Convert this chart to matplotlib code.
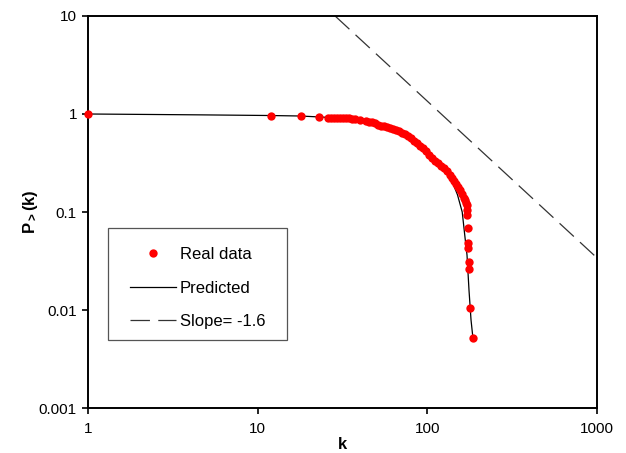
import matplotlib
matplotlib.use('Agg')
import matplotlib.pyplot as plt
from matplotlib.patches import Rectangle

plt.rcParams['font.family'] = ['Liberation Sans', 'DejaVu Sans']
plt.rcParams['mathtext.fontset'] = 'custom'
plt.rcParams['mathtext.rm'] = 'Liberation Sans'
plt.rcParams['mathtext.bf'] = 'Liberation Sans:bold'
plt.rcParams['mathtext.default'] = 'bf'
plt.rcParams['lines.scale_dashes'] = False

# Real data
real_k = [1, 11.9, 18.0, 23.0, 26.0, 27.0, 28.2, 29.3, 30.5, 31.8, 33.1, 34.5,
          35.9, 37.4, 40.1, 43.5, 45.3, 47.2, 49.1, 51.2, 53.3, 55.5, 57.8,
          60.2, 62.7, 65.3, 68.0, 70.8, 73.8, 76.9, 80.0, 83.4, 86.9, 90.4,
          94.2, 98.1, 102.2, 106.4, 110.9, 115.5, 120.3, 125.2, 130.5, 135.9,
          139.6, 143.5, 147.4, 151.5, 155.6, 159.9, 164.3, 166.6, 168.8,
          170.4, 170.4, 170.4, 172.8, 174.2, 174.2, 176.6, 176.6, 178.3, 184.9]
real_p = [1.0, 0.954, 0.954, 0.925, 0.910, 0.910, 0.910, 0.910, 0.906, 0.904,
          0.902, 0.900, 0.898, 0.889, 0.869, 0.854, 0.838, 0.819, 0.800,
          0.781, 0.763, 0.749, 0.733, 0.718, 0.703, 0.683, 0.664, 0.646,
          0.625, 0.596, 0.569, 0.536, 0.506, 0.476, 0.450, 0.419, 0.386,
          0.355, 0.335, 0.315, 0.296, 0.278, 0.262, 0.241, 0.222, 0.207,
          0.193, 0.180, 0.168, 0.153, 0.139, 0.133, 0.124, 0.118, 0.105,
          0.093, 0.069, 0.048, 0.043, 0.031, 0.026, 0.0105, 0.0052]

# Predicted curve
pred_k = [1, 4.57, 11.8, 17.8, 23.3, 30.5, 40.1, 52.5, 69.3, 90.4, 118.9,
          135.9, 150.5, 160.5, 166.6, 171.3, 176.0, 180.9, 185.6]
pred_p = [1.0, 0.98, 0.965, 0.954, 0.932, 0.910, 0.869, 0.772, 0.671, 0.483,
          0.302, 0.233, 0.150, 0.100, 0.0556, 0.0364, 0.0159, 0.0079, 0.0052]

# Reference power law, slope -1.6
slope_k = [28.6, 1000]
slope_p = [10, 0.034]

fig = plt.figure(figsize=(6.26, 4.53), dpi=100)
ax = fig.add_axes([0.1406, 0.0993, 0.8131, 0.8654])

ax.plot(pred_k, pred_p, color='black', lw=0.9, label='Predicted', zorder=2)
ax.plot(slope_k, slope_p, color='#333333', lw=0.9, linestyle=(0, (14, 6)),
        label='Slope= -1.6', zorder=2)
ax.plot(real_k, real_p, 'o', color='#ff0000', markersize=6, mec='none',
        label='Real data', zorder=3, clip_on=False)

ax.set_xscale('log')
ax.set_yscale('log')
ax.set_xlim(1, 1000)
ax.set_ylim(0.001, 10)
ax.set_xticks([1, 10, 100, 1000])
ax.set_xticklabels(['1', '10', '100', '1000'])
ax.set_yticks([0.001, 0.01, 0.1, 1, 10])
ax.set_yticklabels(['0.001', '0.01', '0.1', '1', '10'])
ax.minorticks_off()

for s in ax.spines.values():
    s.set_linewidth(1.4)
ax.tick_params(axis='both', direction='out', length=4, width=1.2, labelsize=11)
ax.tick_params(axis='x', pad=6)
ax.tick_params(axis='y', pad=4)

ax.set_xlabel('k', fontsize=12, fontweight='bold', labelpad=1)
ax.set_ylabel('P$_{>}$(k)', fontsize=12, fontweight='bold', labelpad=-1)

# legend box drawn separately so the padding can match the original
ax.add_patch(Rectangle((0.039, 0.173), 0.352, 0.286, transform=ax.transAxes,
                       facecolor='white', edgecolor='#555555', lw=0.9, zorder=4))

handles, labels = ax.get_legend_handles_labels()
order = [2, 0, 1]
leg = ax.legend([handles[i] for i in order], [labels[i] for i in order],
                loc='upper left', bbox_to_anchor=(0.0825, 0.41),
                fontsize=12, frameon=False, borderpad=0,
                labelspacing=1.1, handlelength=2.75, handletextpad=0.25,
                borderaxespad=0, numpoints=1)
leg.set_zorder(5)

fig.savefig('out.png', dpi=100)
